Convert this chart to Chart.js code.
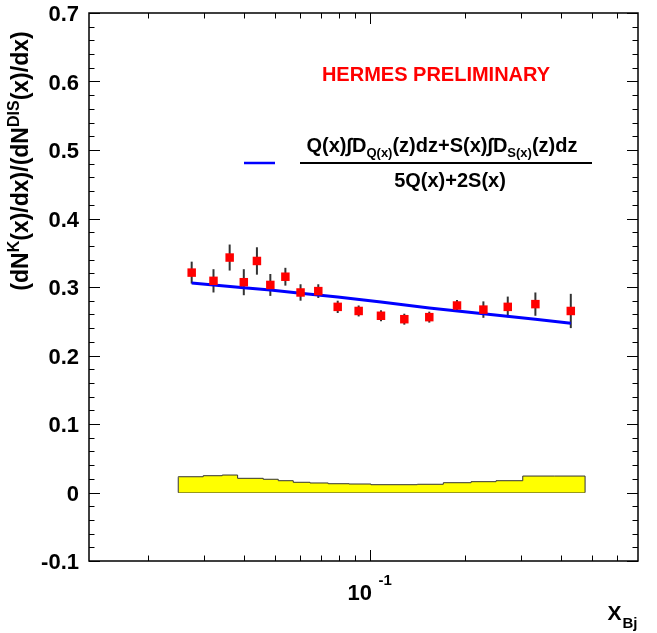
<!DOCTYPE html>
<html>
<head>
<meta charset="utf-8">
<script src="https://cdn.jsdelivr.net/npm/chart.js@4.4.1/dist/chart.umd.min.js"></script>
<style>
html,body{margin:0;padding:0;background:#fff;}
canvas{display:block;}
</style>
</head>
<body>
<canvas id="c" width="657" height="633"></canvas>
<script>
// ---- data ----
const xBj = [0.0274, 0.0321, 0.0361, 0.0400, 0.0440, 0.0485, 0.0541, 0.0604, 0.0687, 0.0791,
             0.0921, 0.1083, 0.1283, 0.1538, 0.1881, 0.2278, 0.2719, 0.3323, 0.4297];
const ratio = [0.321, 0.309, 0.343, 0.307, 0.338, 0.303, 0.315, 0.292, 0.294, 0.271,
               0.265, 0.258, 0.253, 0.256, 0.273, 0.267, 0.271, 0.275, 0.265];
const ratioErr = [0.016, 0.017, 0.019, 0.019, 0.020, 0.016, 0.013, 0.012, 0.010, 0.009,
                  0.008, 0.008, 0.008, 0.008, 0.008, 0.012, 0.015, 0.017, 0.025];

const curveX = [0.0274, 0.0321, 0.0400, 0.0485, 0.0604, 0.0791, 0.1083, 0.1538, 0.2278, 0.3323, 0.4297];
const curveY = [0.306, 0.303, 0.299, 0.2955, 0.291, 0.2855, 0.278, 0.2695, 0.261, 0.253, 0.247];

const sysEdges = [0.02485, 0.02979, 0.0342, 0.03824, 0.04606, 0.05137, 0.05728, 0.06467, 0.07384,
                  0.08586, 0.1007, 0.141, 0.1703, 0.2083, 0.2497, 0.3032, 0.3814, 0.4767];
const sysVals = [0.0216, 0.023, 0.0245, 0.0255, 0.0207, 0.0193, 0.0172, 0.0149, 0.0139,
                 0.0128, 0.0124, 0.0114, 0.012, 0.0143, 0.0158, 0.0172, 0.024];

const yTickLabels = ['-0.1', '0', '0.1', '0.2', '0.3', '0.4', '0.5', '0.6', '0.7'];
const xMinorTicks = [0.02, 0.03, 0.04, 0.05, 0.06, 0.07, 0.08, 0.09, 0.2, 0.3, 0.4, 0.5, 0.6];
const xMajorTicks = [0.1];

// ---- build datasets ----
const points = xBj.map((x, i) => ({x, y: ratio[i]}));
const curve = curveX.map((x, i) => ({x, y: curveY[i]}));
const band = [{x: sysEdges[0], y: 0}];
sysVals.forEach((v, i) => band.push({x: sysEdges[i], y: v}));
band.push({x: sysEdges[sysEdges.length - 1], y: sysVals[sysVals.length - 1]});
band.push({x: sysEdges[sysEdges.length - 1], y: 0});
const bandBase = [{x: sysEdges[0], y: 0}, {x: sysEdges[sysEdges.length - 1], y: 0}];

const FONT = '"Liberation Sans", Arial, Helvetica, sans-serif';

function measureRich(ctx, segs, base, small) {
  let w = 0;
  for (const [t, k] of segs) {
    ctx.font = 'bold ' + (k === 'n' ? base : small) + 'px ' + FONT;
    w += ctx.measureText(t).width;
  }
  return w;
}
function drawRich(ctx, x, y, segs, base, small, supOff, subOff) {
  let cx = x;
  for (const [t, k] of segs) {
    ctx.font = 'bold ' + (k === 'n' ? base : small) + 'px ' + FONT;
    const dy = k === 'sup' ? -supOff : (k === 'sub' ? subOff : 0);
    ctx.fillText(t, cx, y + dy);
    cx += ctx.measureText(t).width;
  }
}

const decor = {
  id: 'decor',
  beforeDatasetsDraw(chart) {
    const ctx = chart.ctx, xs = chart.scales.x, ys = chart.scales.y;
    ctx.save();
    ctx.strokeStyle = '#333';
    ctx.lineWidth = 2;
    xBj.forEach((x, i) => {
      const px = xs.getPixelForValue(x);
      ctx.beginPath();
      ctx.moveTo(px, ys.getPixelForValue(ratio[i] - ratioErr[i]));
      ctx.lineTo(px, ys.getPixelForValue(ratio[i] + ratioErr[i]));
      ctx.stroke();
    });
    ctx.restore();
  },
  afterDraw(chart) {
    const ctx = chart.ctx, xs = chart.scales.x, ys = chart.scales.y, a = chart.chartArea;
    ctx.save();
    // frame
    ctx.strokeStyle = '#000';
    ctx.lineWidth = 1.5;
    ctx.strokeRect(a.left, a.top, a.right - a.left, a.bottom - a.top);
    // y ticks (both sides, inward)
    ctx.lineWidth = 1;
    for (let k = 0; k <= 40; k++) {
      const v = -0.1 + k * 0.02;
      const py = Math.round(ys.getPixelForValue(v)) + 0.5;
      const len = (k % 5 === 0) ? 11 : 5.5;
      ctx.beginPath();
      ctx.moveTo(a.left, py); ctx.lineTo(a.left + len, py);
      ctx.moveTo(a.right, py); ctx.lineTo(a.right - len, py);
      ctx.stroke();
    }
    // x ticks (bottom and top, inward)
    const xt = xMinorTicks.map(v => [v, 5.5]).concat(xMajorTicks.map(v => [v, 11]));
    xt.forEach(([v, len]) => {
      const px = Math.round(xs.getPixelForValue(v)) + 0.5;
      ctx.beginPath();
      ctx.moveTo(px, a.bottom); ctx.lineTo(px, a.bottom - len);
      ctx.moveTo(px, a.top); ctx.lineTo(px, a.top + len);
      ctx.stroke();
    });
    // y tick labels
    ctx.fillStyle = '#000';
    ctx.textAlign = 'right';
    ctx.textBaseline = 'alphabetic';
    ctx.font = 'bold 22px ' + FONT;
    yTickLabels.forEach(t => {
      const py = ys.getPixelForValue(parseFloat(t));
      ctx.fillText(t, 79, py + 8);
    });
    // x tick label 10^-1
    ctx.textAlign = 'left';
    const p01 = xs.getPixelForValue(0.1);
    ctx.font = 'bold 22px ' + FONT;
    ctx.fillText('10', p01 - 22.5, 600);
    ctx.font = 'bold 15px ' + FONT;
    ctx.fillText('-1', p01 + 8.5, 585);
    // x title
    ctx.font = 'bold 21px ' + FONT;
    ctx.fillText('X', 607.5, 620);
    ctx.font = 'bold 15px ' + FONT;
    ctx.fillText('Bj', 622.5, 628);
    // y title (rotated)
    const ySegs = [['(dN', 'n'], ['K', 'sup'], ['(x)/dx)/(dN', 'n'], ['DIS', 'sup'], ['(x)/dx)', 'n']];
    const yw = measureRich(ctx, ySegs, 23, 16);
    ctx.save();
    ctx.translate(28, 161);
    ctx.rotate(-Math.PI / 2);
    drawRich(ctx, -yw / 2, 0, ySegs, 23, 16, 9, 0);
    ctx.restore();
    // HERMES PRELIMINARY
    ctx.fillStyle = '#ff0000';
    ctx.font = 'bold 20px ' + FONT;
    ctx.textAlign = 'center';
    ctx.fillText('HERMES PRELIMINARY', 436, 81);
    // legend sample
    ctx.strokeStyle = '#0000ff';
    ctx.lineWidth = 2.5;
    ctx.beginPath(); ctx.moveTo(244, 163); ctx.lineTo(275, 163); ctx.stroke();
    // fraction
    ctx.fillStyle = '#000';
    ctx.textAlign = 'left';
    const num = [['Q(x)\u222B', 'n'], ['D', 'n'], ['Q(x)', 'sub'], ['(z)dz+S(x)\u222B', 'n'], ['D', 'n'], ['S(x)', 'sub'], ['(z)dz', 'n']];
    const nw = measureRich(ctx, num, 20, 13);
    drawRich(ctx, 442 - nw / 2, 152, num, 20, 13, 0, 5);
    ctx.strokeStyle = '#000';
    ctx.lineWidth = 2;
    ctx.beginPath(); ctx.moveTo(300, 163); ctx.lineTo(592, 163); ctx.stroke();
    ctx.font = 'bold 20px ' + FONT;
    ctx.textAlign = 'center';
    ctx.fillText('5Q(x)+2S(x)', 450, 187);
    ctx.restore();
  }
};

new Chart(document.getElementById('c'), {
  type: 'scatter',
  data: {
    datasets: [
      {
        type: 'scatter',
        data: points,
        backgroundColor: '#ff0000',
        borderColor: '#ff0000',
        borderWidth: 0,
        pointStyle: 'rect',
        pointRadius: 6,
        order: 0
      },
      {
        type: 'line',
        data: curve,
        borderColor: '#0000ff',
        borderWidth: 3,
        pointRadius: 0,
        fill: false,
        tension: 0,
        order: 1
      },
      {
        type: 'line',
        data: band,
        stepped: 'after',
        borderColor: '#333',
        borderWidth: 1,
        backgroundColor: '#ffff00',
        fill: 'origin',
        pointRadius: 0,
        order: 2
      },
      {
        type: 'line',
        data: bandBase,
        borderColor: '#333',
        borderWidth: 1,
        pointRadius: 0,
        fill: false,
        order: 3
      }
    ]
  },
  options: {
    responsive: false,
    animation: false,
    devicePixelRatio: 1,
    layout: {padding: {left: 89, top: 13, right: 19, bottom: 72}},
    scales: {
      x: {type: 'logarithmic', min: 0.013, max: 0.7, display: false},
      y: {type: 'linear', min: -0.1, max: 0.7, display: false}
    },
    plugins: {legend: {display: false}, tooltip: {enabled: false}}
  },
  plugins: [decor]
});
</script>
</body>
</html>
